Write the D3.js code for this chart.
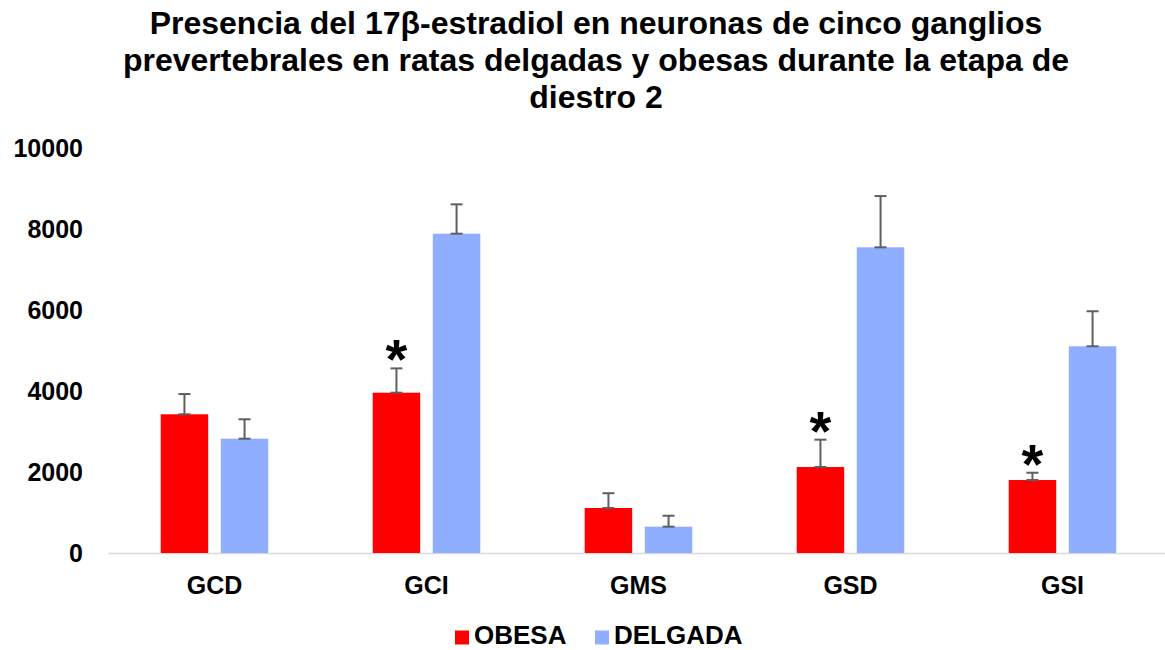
<!DOCTYPE html>
<html>
<head>
<meta charset="utf-8">
<script src="https://cdn.jsdelivr.net/npm/d3@7"></script>
<style>
  html, body { margin: 0; padding: 0; background: #fff; }
  svg { display: block; font-family: "Liberation Sans", Arial, sans-serif; }
</style>
</head>
<body>
<svg id="chart" width="1165" height="650"></svg>
<script>
// Ganglia and groups
const categories = ["GCD", "GCI", "GMS", "GSD", "GSI"];
const seriesNames = ["OBESA", "DELGADA"];
const obesaValues = [3425, 3958, 1111, 2123, 1802];
const delgadaValues = [2822, 7884, 650, 7548, 5104];
const obesaErrors = [500, 600, 365, 675, 180];
const delgadaErrors = [480, 725, 270, 1265, 865];
// Significance markers over the OBESA bar
const significant = [false, true, false, true, true];
const yTicks = [0, 2000, 4000, 6000, 8000, 10000];
const titleLines = [
  "Presencia del 17β-estradiol en neuronas de cinco ganglios",
  "prevertebrales en ratas delgadas y obesas durante la etapa de",
  "diestro 2"
];
const colors = ["#FF0000", "#8FAEFF"];

const FONT = "Liberation Sans, Arial, sans-serif";
const svg = d3.select("#chart");
const plot = { left: 108.5, right: 1168.5, top: 148, bottom: 553 };

const x0 = d3.scaleBand().domain(categories).range([plot.left, plot.right]).paddingInner(0).paddingOuter(0);
const groupWidth = 107.6;
const x1 = d3.scaleBand().domain(seriesNames).range([0, groupWidth]).paddingInner(0.21);
const y = d3.scaleLinear().domain([0, 10000]).range([plot.bottom, plot.top]);

// Title
svg.append("g").selectAll("text").data(titleLines).join("text")
  .attr("x", 596).attr("y", (d, i) => 34 + i * 37)
  .attr("text-anchor", "middle")
  .attr("font-size", 32).attr("font-weight", "bold").attr("fill", "#000")
  .text(d => d);

// Y axis labels
const yAxis = d3.axisLeft(y).tickValues(yTicks).tickSize(0).tickPadding(0).tickFormat(d3.format("d"));
const yg = svg.append("g").attr("transform", `translate(83,0)`).call(yAxis);
yg.select(".domain").remove();
yg.selectAll("text").attr("font-size", 25).attr("font-weight", "bold").attr("fill", "#000")
  .attr("font-family", FONT);

// Baseline
svg.append("line")
  .attr("x1", plot.left).attr("x2", plot.right)
  .attr("y1", y(0) + 0.5).attr("y2", y(0) + 0.5)
  .attr("stroke", "#d9d9d9").attr("stroke-width", 1.5);

// X axis labels
const xAxis = d3.axisBottom(x0).tickSize(0).tickPadding(0);
const xg = svg.append("g").attr("transform", `translate(0,594)`).call(xAxis);
xg.select(".domain").remove();
xg.selectAll("text").attr("font-size", 25).attr("font-weight", "bold").attr("fill", "#000")
  .attr("font-family", FONT).attr("dy", 0).attr("y", 0);

const rows = categories.map((c, i) => ({
  cat: c,
  items: [
    { s: seriesNames[0], v: obesaValues[i], e: obesaErrors[i], color: colors[0] },
    { s: seriesNames[1], v: delgadaValues[i], e: delgadaErrors[i], color: colors[1] }
  ],
  sig: significant[i]
}));

const groups = svg.append("g").selectAll("g").data(rows).join("g")
  .attr("transform", d => `translate(${x0(d.cat) + (x0.bandwidth() - groupWidth) / 2},0)`);

groups.selectAll("rect").data(d => d.items).join("rect")
  .attr("x", d => x1(d.s))
  .attr("width", x1.bandwidth())
  .attr("y", d => y(d.v))
  .attr("height", d => y(0) - y(d.v))
  .attr("fill", d => d.color);

// Error bars (upper only)
const errColor = "#5f5f5f";
groups.each(function(d) {
  const g = d3.select(this);
  d.items.forEach(it => {
    const cx = x1(it.s) + x1.bandwidth() / 2;
    g.append("line").attr("x1", cx).attr("x2", cx)
      .attr("y1", y(it.v)).attr("y2", y(it.v + it.e))
      .attr("stroke", errColor).attr("stroke-width", 2);
    [it.v, it.v + it.e].forEach(val => {
      g.append("line").attr("x1", cx - 6).attr("x2", cx + 6)
        .attr("y1", y(val)).attr("y2", y(val))
        .attr("stroke", errColor).attr("stroke-width", 2);
    });
  });
  if (d.sig) {
    const it = d.items[0];
    const cx = x1(it.s) + x1.bandwidth() / 2;
    // glyph centre ~21px above the error cap
    g.append("text").attr("x", cx).attr("y", y(it.v + it.e) - 21 + 31)
      .attr("text-anchor", "middle")
      .attr("font-size", 56).attr("font-weight", "bold").attr("fill", "#000")
      .attr("font-family", FONT)
      .text("*");
  }
});

// Legend
const legend = svg.append("g").attr("transform", "translate(455,644)");
const legendItems = [
  { name: seriesNames[0], color: colors[0], x: 0 },
  { name: seriesNames[1], color: colors[1], x: 140 }
];
legendItems.forEach(li => {
  legend.append("rect").attr("x", li.x).attr("y", -13.5).attr("width", 14).attr("height", 14).attr("fill", li.color);
  legend.append("text").attr("x", li.x + 19).attr("y", 0)
    .attr("font-size", 26).attr("font-weight", "bold").attr("fill", "#000")
    .attr("font-family", FONT).text(li.name);
});
</script>
</body>
</html>
